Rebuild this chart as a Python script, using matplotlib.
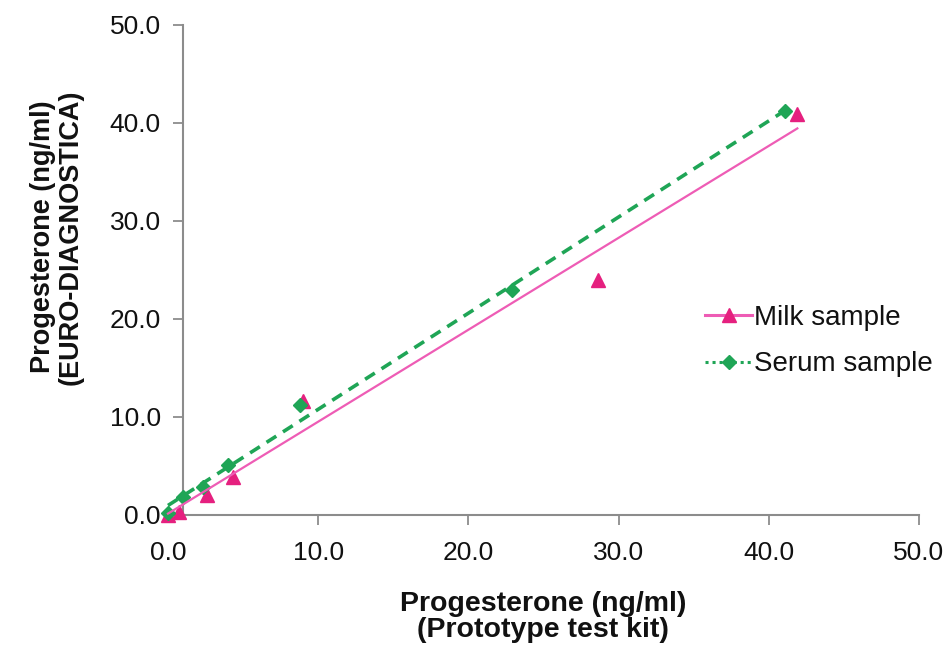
import numpy as np
import matplotlib
matplotlib.use("Agg")
import matplotlib.pyplot as plt
from matplotlib.lines import Line2D

# values
milk_x = [0.0, 0.7, 2.6, 4.3, 9.0, 28.6, 41.9]
milk_y = [0.0, 0.3, 2.0, 3.9, 11.6, 24.0, 40.9]
serum_x = [0.0, 1.0, 2.3, 4.0, 8.8, 22.9, 41.1]
serum_y = [0.2, 1.8, 2.9, 5.1, 11.2, 23.0, 41.2]
series_names = ["Milk sample", "Serum sample"]
tick_values = [0, 10, 20, 30, 40, 50]
xlabel_text = "Progesterone (ng/ml)\n(Prototype test kit)"
ylabel_text = "Progesterone (ng/ml)\n(EURO-DIAGNOSTICA)"

pink = "#e5207f"
pink_line = "#ee5cb5"
green = "#1fa556"
axis_grey = "#8c8c8c"

plt.rcParams['font.family'] = ['Liberation Sans', 'DejaVu Sans']

fig = plt.figure(figsize=(9.49, 6.48), dpi=100)
ax = fig.add_axes([168 / 949, 133 / 648, (919 - 168) / 949, 490 / 648])

# markers
ax.plot(milk_x, milk_y, linestyle="none", marker="^", markersize=10,
        color=pink, clip_on=False, zorder=3)
ax.plot(serum_x, serum_y, linestyle="none", marker="D", markersize=7.5,
        color=green, clip_on=False, zorder=4)

# linear trend lines
mx = np.array(milk_x)
sx = np.array(serum_x)
m_fit = np.polyfit(mx, milk_y, 1)
s_fit = np.polyfit(sx, serum_y, 1)
xm = np.array([mx.min(), mx.max()])
xs = np.array([sx.min(), sx.max()])
ax.plot(xm, np.polyval(m_fit, xm), color=pink_line, linewidth=1.6,
        clip_on=False, zorder=5)
ax.plot(xs, np.polyval(s_fit, xs), color=green, linewidth=2.6,
        linestyle=(0, (3.2, 2.2)), clip_on=False, zorder=6)

ax.set_xlim(0, 50)
ax.set_ylim(0, 50)
ax.set_xticks(tick_values)
ax.set_yticks(tick_values)
ax.set_xticklabels(["%.1f" % v for v in tick_values])
ax.set_yticklabels(["%.1f" % v for v in tick_values])

# Excel-style axes: y axis crosses a little right of zero
ax.spines['top'].set_visible(False)
ax.spines['right'].set_visible(False)
ax.spines['left'].set_position(('data', 1.0))
ax.spines['bottom'].set_bounds(1.0, 50)
for s in ['left', 'bottom']:
    ax.spines[s].set_color(axis_grey)
    ax.spines[s].set_linewidth(1.5)
ax.tick_params(axis='both', direction='out', length=7, width=1.3,
               color=axis_grey, labelsize=19, labelcolor="#111111")
ax.tick_params(axis='y', pad=9)
ax.tick_params(axis='x', pad=12)
ax.xaxis.get_major_ticks()[0].tick1line.set_visible(False)
ax.patch.set_alpha(0)

fig.text(543 / 949, 1 - 617 / 648, xlabel_text, ha='center', va='center',
         fontsize=20.5, fontweight='bold', linespacing=1.0, color="#111111")
fig.text(57 / 949, 1 - 237 / 648, ylabel_text, ha='center', va='center',
         rotation=90, fontsize=19.5, fontweight='bold', linespacing=1.05,
         color="#111111")

handles = [
    Line2D([], [], color=pink_line, linewidth=2.2, marker="^", markersize=10,
           markerfacecolor=pink, markeredgecolor=pink),
    Line2D([], [], color=green, linewidth=2.2, linestyle=(0, (1, 1.3)),
           marker="D", markersize=7.5),
]
fig.legend(handles, series_names, loc='center left',
           bbox_to_anchor=(705 / 949, 1 - 341 / 648), frameon=False,
           fontsize=20, handlelength=1.7, handletextpad=0.05,
           borderpad=0, borderaxespad=0, labelspacing=0.75,
           labelcolor="#111111")

fig.savefig("out.png", dpi=100)
